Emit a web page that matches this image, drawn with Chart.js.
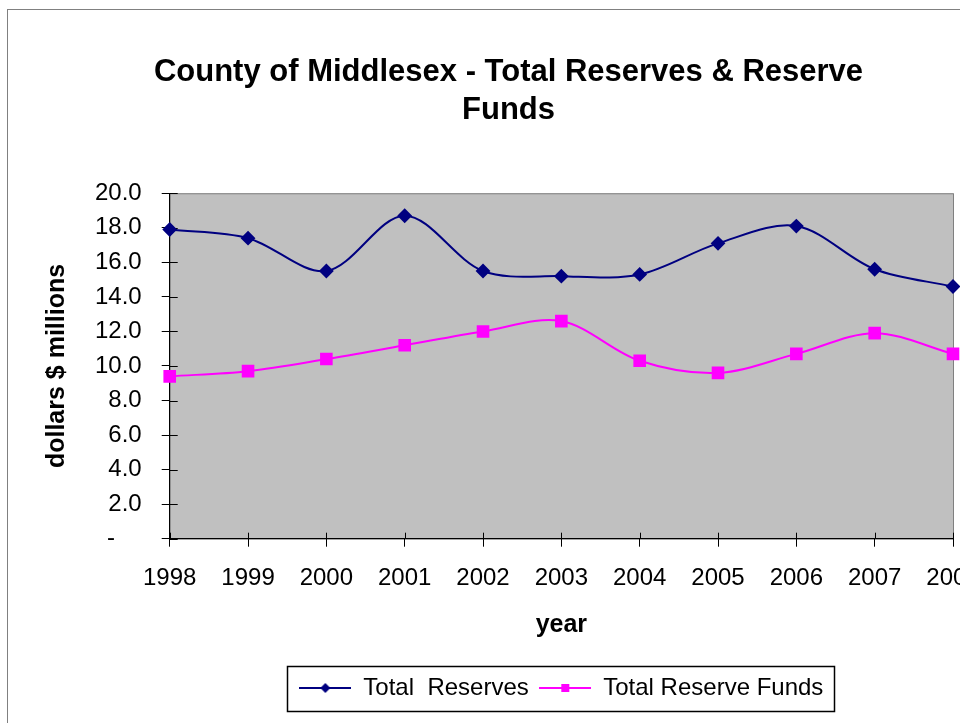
<!DOCTYPE html>
<html>
<head>
<meta charset="utf-8">
<script src="https://cdn.jsdelivr.net/npm/chart.js@4.4.1/dist/chart.umd.min.js"></script>
<style>
    html, body { margin: 0; padding: 0; background: #fff; overflow: hidden; }
    #reservesChart { display: block; }
</style>
</head>
<body>
<canvas id="reservesChart" width="1018" height="723" style="width:1018px;height:723px"></canvas>
<script>
const years = ['1998', '1999', '2000', '2001', '2002', '2003', '2004', '2005', '2006', '2007', '2008'];
const totalReserves = [17.9, 17.4, 15.5, 18.7, 15.5, 15.2, 15.3, 17.1, 18.1, 15.6, 14.6];
const totalReserveFunds = [9.4, 9.7, 10.4, 11.2, 12.0, 12.6, 10.3, 9.6, 10.7, 11.9, 10.7];
const yMin = 0;
const yMax = 20;
const yStep = 2;

const NAVY = '#000080';
const MAGENTA = '#ff00ff';
const FONT = "'Liberation Sans', Arial, sans-serif";

// legend swatch: short line with the marker in the middle (Excel style)
function makeSwatch(color, shape) {
    const c = document.createElement('canvas');
    c.width = 52;
    c.height = 14;
    const g = c.getContext('2d');
    g.strokeStyle = color;
    g.lineWidth = 2;
    g.beginPath();
    g.moveTo(0, 7);
    g.lineTo(52, 7);
    g.stroke();
    g.fillStyle = color;
    g.beginPath();
    if (shape === 'diamond') {
        g.moveTo(26, 2);
        g.lineTo(31, 7);
        g.lineTo(26, 12);
        g.lineTo(21, 7);
        g.closePath();
        g.fill();
    } else {
        g.fillRect(22, 3, 8, 8);
    }
    return c;
}

const swatches = [makeSwatch(NAVY, 'diamond'), makeSwatch(MAGENTA, 'square')];

const chartFrame = {
    id: 'chartFrame',
    beforeDraw(chart) {
        const { ctx, chartArea: a } = chart;
        ctx.save();
        ctx.fillStyle = '#ffffff';
        ctx.fillRect(0, 0, chart.width, chart.height);
        ctx.strokeStyle = '#808080';
        ctx.lineWidth = 1;
        ctx.strokeRect(7.5, 9.5, chart.width, chart.height + 20);
        ctx.fillStyle = '#c0c0c0';
        ctx.fillRect(a.left, a.top, a.width, a.height);
        ctx.strokeStyle = '#808080';
        ctx.strokeRect(a.left + 0.5, a.top + 0.5, a.width, a.height);
        ctx.restore();
    },
    beforeDatasetsDraw(chart) {
        // inner half of the "cross" tick marks
        const { ctx, chartArea: a, scales } = chart;
        ctx.save();
        ctx.strokeStyle = '#000';
        ctx.lineWidth = 1;
        ctx.beginPath();
        scales.x.ticks.forEach((t, i) => {
            const px = Math.round(scales.x.getPixelForTick(i)) + 0.5;
            ctx.moveTo(px, a.bottom);
            ctx.lineTo(px, a.bottom - 6);
        });
        scales.y.ticks.forEach((t, i) => {
            const py = Math.round(scales.y.getPixelForTick(i)) + 0.5;
            ctx.moveTo(a.left, py);
            ctx.lineTo(a.left + 8, py);
        });
        ctx.stroke();
        ctx.restore();
    },
    afterDraw(chart) {
        const legend = chart.legend;
        const boxes = legend.legendHitBoxes;
        if (!boxes || !boxes.length) return;
        const last = boxes[boxes.length - 1];
        const left = Math.round(boxes[0].left - 12) + 0.5;
        const right = Math.round(last.left + last.width + 11) + 0.5;
        const ctx = chart.ctx;
        ctx.save();
        ctx.strokeStyle = '#000';
        ctx.lineWidth = 1.5;
        ctx.strokeRect(left, Math.round(legend.top) + 0.5, right - left, Math.round(legend.height));
        ctx.restore();
    }
};

new Chart(document.getElementById('reservesChart'), {
    type: 'line',
    data: {
        labels: years,
        datasets: [{
            label: 'Total  Reserves',
            data: totalReserves,
            borderColor: NAVY,
            backgroundColor: NAVY,
            borderWidth: 2,
            tension: 0.33,
            pointStyle: 'rectRot',
            pointRadius: 6,
            clip: false
        }, {
            label: 'Total Reserve Funds',
            data: totalReserveFunds,
            borderColor: MAGENTA,
            backgroundColor: MAGENTA,
            borderWidth: 2,
            tension: 0.33,
            pointStyle: 'rect',
            pointRadius: 7.5,
            clip: false
        }]
    },
    options: {
        responsive: false,
        devicePixelRatio: 1,
        animation: false,
        layout: {
            padding: { left: 64, right: 65, top: 0, bottom: 13 }
        },
        scales: {
            x: {
                offset: false,
                grid: {
                    drawOnChartArea: false,
                    color: '#000',
                    tickLength: 8
                },
                border: { color: '#000', width: 1 },
                ticks: {
                    color: '#000',
                    padding: 17,
                    maxRotation: 0,
                    autoSkip: false,
                    font: { family: FONT, size: 24 }
                },
                title: {
                    display: true,
                    text: 'year',
                    color: '#000',
                    font: { family: FONT, size: 25, weight: 'bold' },
                    padding: { top: 1, bottom: 25 }
                }
            },
            y: {
                min: yMin,
                max: yMax,
                grid: {
                    drawOnChartArea: false,
                    color: '#000',
                    tickLength: 8
                },
                border: { color: '#000', width: 1 },
                ticks: {
                    stepSize: yStep,
                    color: '#000',
                    padding: 20,
                    font: { family: FONT, size: 24 },
                    callback: function (value) {
                        return value === 0 ? '-    ' : value.toFixed(1);
                    }
                },
                title: {
                    display: true,
                    text: 'dollars $ millions',
                    color: '#000',
                    font: { family: FONT, size: 25, weight: 'bold' },
                    padding: { top: -22, bottom: 3 }
                }
            }
        },
        plugins: {
            title: {
                display: true,
                text: ['County of Middlesex - Total Reserves & Reserve', 'Funds'],
                color: '#000',
                font: { family: FONT, size: 31, weight: 'bold', lineHeight: 1.23 },
                padding: { top: 53, bottom: 64 }
            },
            legend: {
                position: 'bottom',
                fullSize: false,
                labels: {
                    color: '#000',
                    padding: 10.5,
                    usePointStyle: true,
                    pointStyleWidth: 52,
                    font: { family: FONT, size: 24 },
                    generateLabels: function (chart) {
                        const items = Chart.defaults.plugins.legend.labels.generateLabels(chart);
                        items.forEach((item, i) => {
                            item.pointStyle = swatches[i];
                        });
                        return items;
                    }
                }
            },
            tooltip: { enabled: false }
        }
    },
    plugins: [chartFrame]
});
</script>
</body>
</html>
